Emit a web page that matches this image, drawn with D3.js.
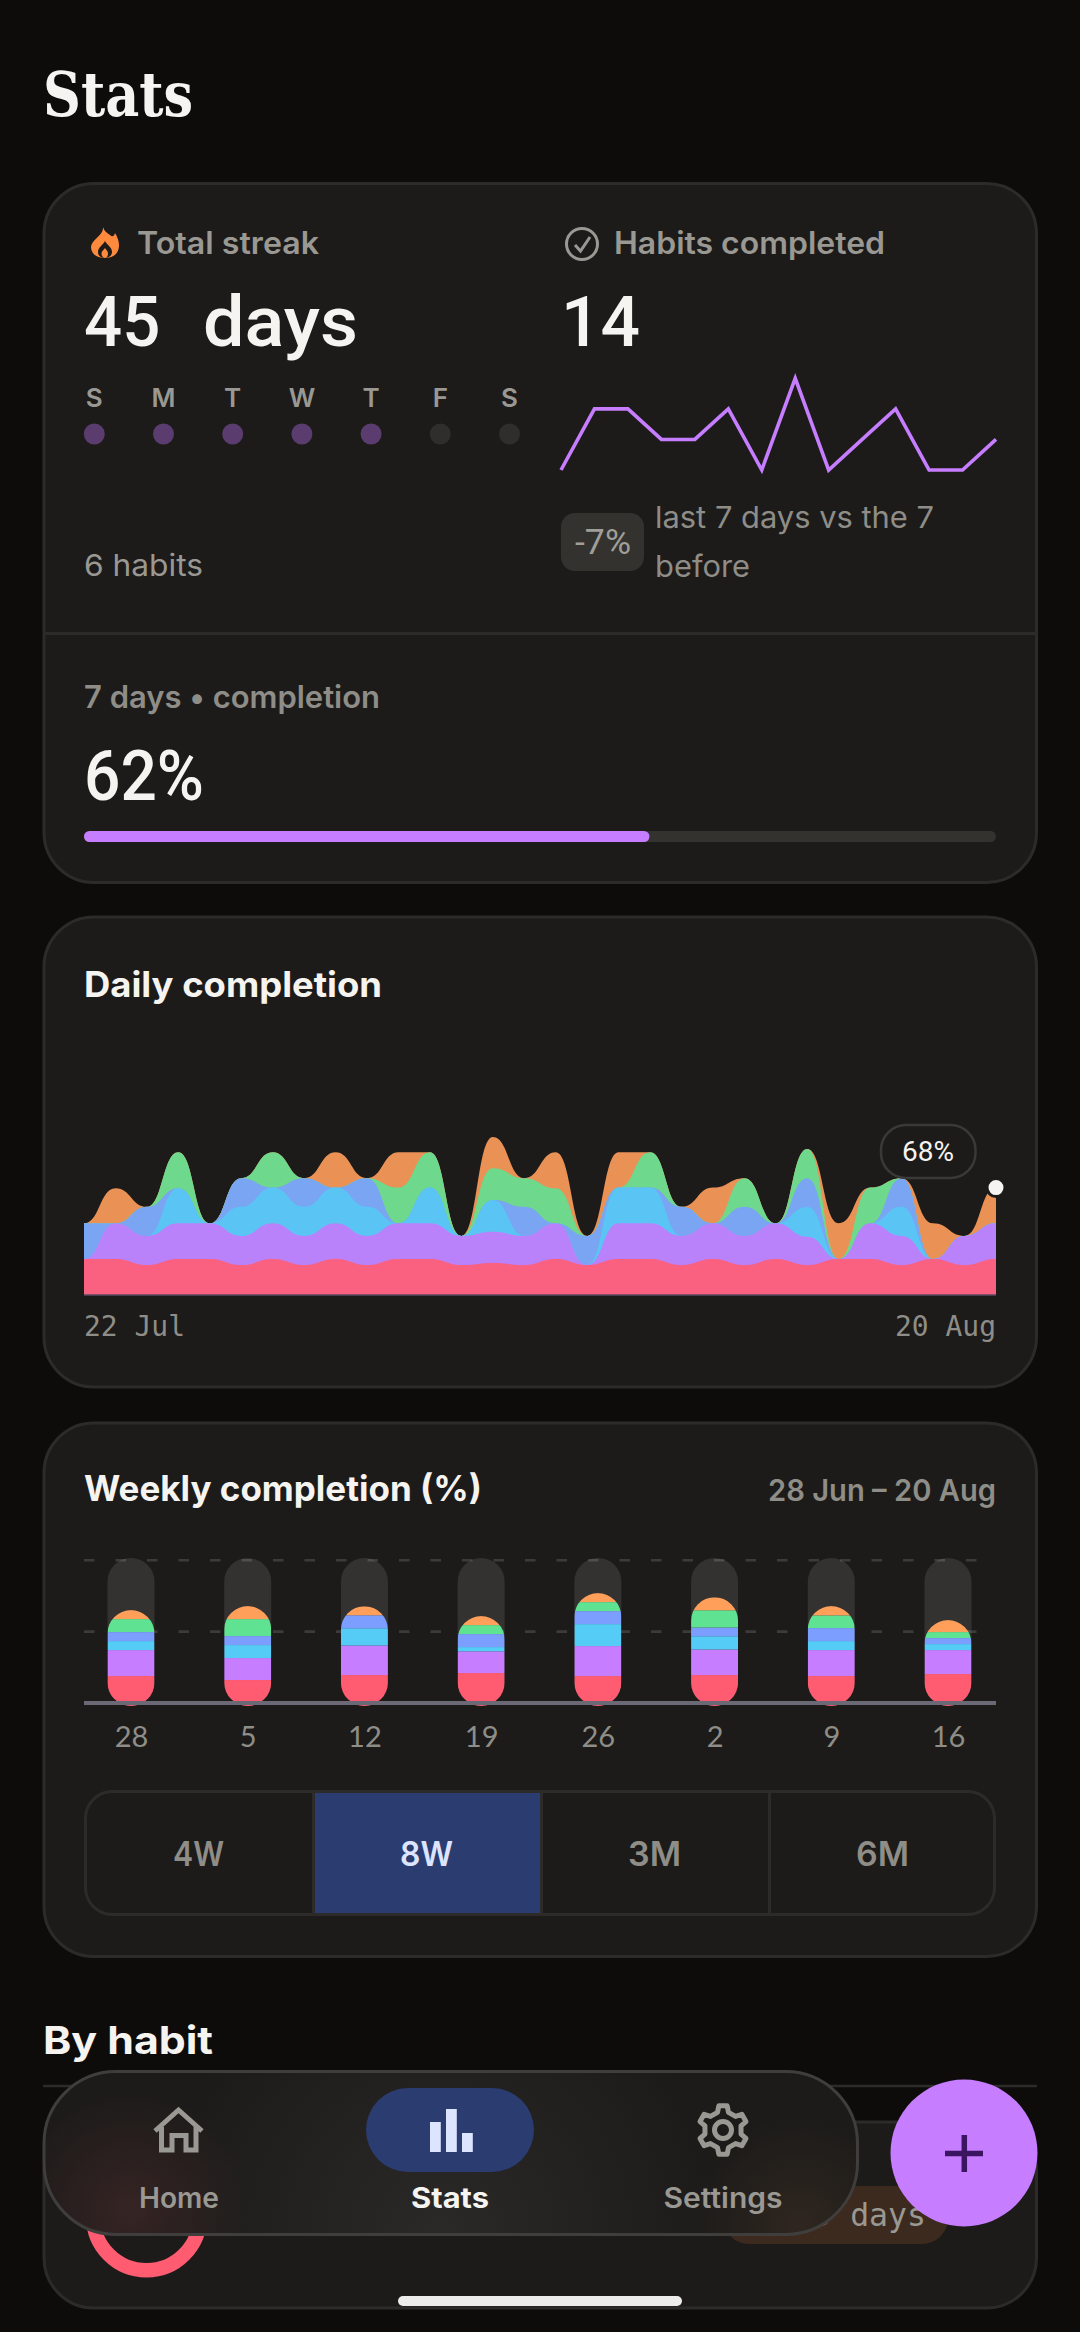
<!DOCTYPE html>
<html><head><meta charset="utf-8">
<script src="https://cdn.jsdelivr.net/npm/d3@7"></script>
<style>html,body{margin:0;padding:0;background:#0d0c0b}svg{display:block}</style>
</head><body>
<svg id="c" width="1080" height="2332" viewBox="0 0 1080 2332"></svg>
<script>
// ---- data ----
const weekdayLabels = ["S","M","T","W","T","F","S"];
const weekdayDone = [1,1,1,1,1,0,0];
const habitsPerDay = [1,3,3,2,2,3,1,4,1,2,3,1,1,2];
const completion7d = 62;

const dayIndex = d3.range(30);
const dailyRed    = [16.8,16.8,14,16.8,16.8,14,16.8,14,16.8,14,16.8,16.8,14,15,14,16.8,14,16.8,16.8,14,16.8,14,16.8,14,16.8,16.8,14,16.8,14,16.8];
const dailyPurple = [0,16.7,13.6,16.7,16.7,13.6,16.7,13.6,16.7,13.6,16.7,16.7,13.6,14.6,13.6,16.7,0,16.7,16.7,13.6,16.7,13.6,16.7,13.2,0,16.7,13.6,0,13.6,16.7];
const dailyCyan   = [0,0,0,16.4,0,13.6,16.7,13.6,16.7,13.6,0,16.7,0,14.8,0,0,0,16.7,16.7,0,0,0,0,13.9,0,0,13.6,0,0,0];
const dailyBlue   = [16.7,0,13.6,0,0,13.4,0,13.4,0,13.4,0,0,0,0,13.6,0,13.6,0,0,13.6,0,13.6,0,13.4,0,0,13.4,0,0,0];
const dailyGreen  = [0,0,0,16.8,0,0,16.5,0,0,0,16.7,16.5,0,14.8,13.4,16.4,0,0,16.5,0,0,13.4,0,13.7,0,16.7,0,0,0,0];
const dailyOrange = [0,16.4,0,0,0,0,0,0,16.5,0,16.5,0,0,14.6,0,16.8,0,16.5,0,0,16.7,0,0,0,16.7,0,0,16.7,0,16.7];
const dailySeries = [dailyRed,dailyPurple,dailyCyan,dailyBlue,dailyGreen,dailyOrange];
const dailyColors = ["#FA607F","#B982FA","#5AC5F4","#7AA5F2","#6ED88C","#EA9156"];
const dailyAxisLabels = ["22 Jul","20 Aug"];

const weekLabels = ["28","5","12","19","26","2","9","16"];
const weeklyRed    = [18.9,16.1,19.6,21,18.9,19.6,18.9,20.3];
const weeklyPurple = [18.2,15.4,20.7,15.2,21,17.9,18.2,16.8];
const weeklyCyan   = [6.3,9.1,12.1,3,15.4,9.3,6.3,4.2];
const weeklyBlue   = [6.3,6.3,9.1,9.1,9.1,6.1,9.1,4.2];
const weeklyGreen  = [9.1,11.9,0,6.3,6.3,12.1,8.9,4.2];
const weeklyOrange = [6.3,9.1,6.3,6.3,6.3,9.1,6.5,8.4];
const weeklySeries = [weeklyRed,weeklyPurple,weeklyCyan,weeklyBlue,weeklyGreen,weeklyOrange];
const weeklyColors = ["#FF5C72","#C77DFF","#55CCF5","#7C9EFF","#5FE392","#FF9F5A"];
const ranges = ["4W","8W","3M","6M"];

// ---- helpers ----
const svg = d3.select("#c");
const SANS = "Inter, 'Noto Sans', sans-serif", NUM = "Roboto, Inter, sans-serif", MONO = "'DejaVu Sans Mono', monospace";
const INK = "#f5f4f0", MUTED = "#9a9892", CARD = "#1c1b1a", EDGE = "#2c2b2a";
function txt(p, s, x, y, size, o = {}) {
  const t = p.append("text").attr("x", x).attr("y", y).text(s)
    .attr("font-family", o.font || SANS).attr("font-size", size)
    .attr("font-weight", o.weight || 400).attr("fill", o.fill || MUTED)
    .attr("text-anchor", o.anchor || "start");
  if (o.len) t.attr("textLength", o.len).attr("lengthAdjust", o.adjust || "spacingAndGlyphs");
  if (o.ws) t.attr("word-spacing", o.ws);
  if (o.stretch) t.attr("font-stretch", o.stretch);
  return t;
}
function card(y0, y1) {
  svg.append("rect").attr("x", 44).attr("y", y0).attr("width", 992.5).attr("height", y1 - y0)
    .attr("rx", 50).attr("fill", CARD).attr("stroke", EDGE).attr("stroke-width", 3);
}
const defs = svg.append("defs");

// ---- header ----
txt(svg, "Stats", 43, 116, 62, {font:"'DejaVu Serif', serif", weight:700, fill:INK, len:150, stretch:"condensed"});

// ---- card 1 ----
card(183.5, 882.5);
const flame = svg.append("g").attr("fill", "#ff8a3d");
flame.append("path").attr("d", "M103 227C104 235 91 240 91 247C91 254 97 258 105 258C113 258 119 254 119 245C119 241 117 236 115 233C114 237 112 237 110 235C107 233 104 231 103 227Z");
flame.append("path").attr("fill", CARD).attr("d", "M105 241C107 245 112 247 112 252C112 256 108 258 105 258C101 258 98 256 98 252C98 247 103 245 105 241Z");
flame.append("path").attr("d", "M105 248C106 250 108 251 108 253.5C108 256 107 258 105 258C103 258 101.5 256 101.5 253.5C101.5 251 104 250 105 248Z");
txt(svg, "Total streak", 137, 254, 31, {weight:600, len:182});
const big = txt(svg, "", 84, 346, 71, {font:NUM, weight:500, fill:INK});
big.append("tspan").attr("x",84).attr("textLength",93).attr("lengthAdjust","spacingAndGlyphs").text("45 ");
big.append("tspan").attr("x",203).attr("textLength",155).attr("lengthAdjust","spacingAndGlyphs").text("days");
txt(svg, "14", 561, 346, 71, {font:NUM, weight:500, fill:INK, len:79});

const dayX = d3.scalePoint().domain(d3.range(7)).range([94.3, 509.5]);
svg.append("g").selectAll("text").data(weekdayLabels).join("text")
  .attr("x", (d,i)=>dayX(i)).attr("y", 407).attr("text-anchor","middle").text(d=>d)
  .attr("font-family",SANS).attr("font-size",26).attr("font-weight",600).attr("fill",MUTED);
svg.append("g").selectAll("circle").data(weekdayDone).join("circle")
  .attr("cx",(d,i)=>dayX(i)).attr("cy",434).attr("r",10.5)
  .attr("fill",d=>d?"#5a3d6e":"#2f2e2c");
txt(svg, "6 habits", 84, 576, 30, {len:119});

svg.append("circle").attr("cx",582).attr("cy",244).attr("r",15.5).attr("fill","none").attr("stroke",MUTED).attr("stroke-width",3);
svg.append("path").attr("d","M575 245L580.5 251L590 237").attr("fill","none").attr("stroke",MUTED).attr("stroke-width",3);
txt(svg, "Habits completed", 614, 254, 31, {weight:600, len:271});

const sparkX = d3.scaleLinear().domain([0, habitsPerDay.length-1]).range([561, 996]);
const sparkY = d3.scaleLinear().domain([1,4]).range([470, 378.3]);
svg.append("path").datum(habitsPerDay)
  .attr("d", d3.line().x((d,i)=>sparkX(i)).y(d=>sparkY(d)))
  .attr("fill","none").attr("stroke","#c77dff").attr("stroke-width",3.6);

svg.append("rect").attr("x",561).attr("y",513).attr("width",83).attr("height",58).attr("rx",14).attr("fill","#33322f");
txt(svg, "-7%", 575, 554, 35, {font:NUM, fill:"#a09e98", len:56});
txt(svg, "last 7 days vs the 7", 655, 528, 30, {fill:"#8f8d87", len:279});
txt(svg, "before", 655, 576.5, 30, {fill:"#8f8d87", len:95});

svg.append("line").attr("x1",44).attr("x2",1036).attr("y1",633.5).attr("y2",633.5).attr("stroke",EDGE).attr("stroke-width",3);
txt(svg, "7 days • completion", 84, 708, 31, {weight:600, fill:"#8f8d87", len:296});
txt(svg, completion7d+"%", 84, 800, 71, {font:NUM, weight:500, fill:INK, len:120});
const progX = d3.scaleLinear().domain([0,100]).range([84,996]);
svg.append("rect").attr("x",84).attr("y",831).attr("width",912).attr("height",11).attr("rx",5.5).attr("fill","#33322f");
svg.append("rect").attr("x",84).attr("y",831).attr("width",progX(completion7d)-84).attr("height",11).attr("rx",5.5).attr("fill","#c77dff");

// ---- card 2: daily completion ----
card(917, 1387);
txt(svg, "Daily completion", 84, 997, 35, {weight:700, fill:INK, len:298});

const dx = d3.scaleLinear().domain([0,29]).range([84,996]);
const dy = d3.scaleLinear().domain([0,100]).range([1295,1081]);
const dailyRows = dayIndex.map(i => Object.fromEntries(dailySeries.map((s,k)=>[k,s[i]])));
const dailyStack = d3.stack().keys(d3.range(dailySeries.length))(dailyRows);
// painted top layer first, each filled down to the baseline, so no seams show between bands
const dArea = d3.area().curve(d3.curveBumpX).x((d,i)=>dx(i)).y0(dy(0)).y1(d=>dy(d[1]));
svg.append("g").selectAll("path").data(dailyStack.slice().reverse()).join("path")
  .attr("d", dArea).attr("fill",d=>dailyColors[d.key]);
svg.append("line").attr("x1",84).attr("x2",996).attr("y1",1295).attr("y2",1295).attr("stroke","#5a4a60").attr("stroke-width",1.5);
txt(svg, dailyAxisLabels[0], 84, 1336, 28, {font:MONO, fill:"#8f8d87", len:101});
txt(svg, dailyAxisLabels[1], 996, 1336, 28, {font:MONO, fill:"#8f8d87", anchor:"end", len:101});

const lastTop = d3.sum(dailySeries, s=>s[29]);
svg.append("rect").attr("x",881).attr("y",1125).attr("width",94.5).attr("height",53).attr("rx",25).attr("fill",CARD).attr("stroke","#3a3937").attr("stroke-width",2.5);
txt(svg, "68%", 928, 1161, 28, {font:NUM, fill:INK, anchor:"middle"});
svg.append("circle").attr("cx",dx(29)).attr("cy",dy(lastTop)).attr("r",9).attr("fill",INK).attr("stroke",CARD).attr("stroke-width",3);

// ---- card 3: weekly completion ----
card(1423, 1956.5);
txt(svg, "Weekly completion (%)", 84, 1501, 35, {weight:700, fill:INK, len:398});
txt(svg, "28 Jun – 20 Aug", 996, 1501, 30, {weight:600, fill:"#8f8d87", anchor:"end", len:228});

const wx = d3.scalePoint().domain(weekLabels.map((d,i)=>i)).range([131,948]);
const wy = d3.scaleLinear().domain([0,100]).range([1703,1560.3]);
const BAR = 47;
svg.append("g").selectAll("line").data([100,50]).join("line")
  .attr("x1",84).attr("x2",996).attr("y1",d=>wy(d)).attr("y2",d=>wy(d))
  .attr("stroke","#3c3b3a").attr("stroke-width",2.6).attr("stroke-dasharray","10.5 21");
svg.append("g").selectAll("rect").data(weekLabels).join("rect")
  .attr("x",(d,i)=>wx(i)-BAR/2).attr("y",1558).attr("width",BAR).attr("height",148).attr("rx",BAR/2)
  .attr("fill","rgba(255,255,255,0.1)");
const weeklyRows = weekLabels.map((_,i)=>Object.fromEntries(weeklySeries.map((s,k)=>[k,s[i]])));
const weeklyStack = d3.stack().keys(d3.range(weeklySeries.length))(weeklyRows);
weekLabels.forEach((w,i)=>{
  const total = d3.sum(weeklySeries,s=>s[i]);
  const top = wy(total);
  defs.append("clipPath").attr("id","wk"+i).append("rect")
    .attr("x",wx(i)-BAR/2).attr("y",top).attr("width",BAR).attr("height",1706-top).attr("rx",BAR/2);
});
weeklyStack.forEach((layer,k)=>{
  svg.append("g").selectAll("rect").data(layer).join("rect")
    .attr("clip-path",(d,i)=>`url(#wk${i})`)
    .attr("x",(d,i)=>wx(i)-BAR/2).attr("width",BAR)
    .attr("y",d=>wy(d[1])).attr("height",d=>(k===0?1706:wy(d[0]))-wy(d[1]))
    .attr("fill",weeklyColors[k]);
});
svg.append("line").attr("x1",84).attr("x2",996).attr("y1",1703).attr("y2",1703).attr("stroke","#6b6975").attr("stroke-width",4);
const wAxis = svg.append("g").attr("transform","translate(0,1706)")
  .call(d3.axisBottom(wx).tickSize(0).tickPadding(20).tickFormat(i=>weekLabels[i]));
wAxis.select(".domain").remove();
wAxis.selectAll("text").attr("font-family","Lato, sans-serif").attr("font-size",29).attr("fill","#8f8d87");

// segmented control
const segX = d3.scaleBand().domain(ranges).range([84,996]);
svg.append("rect").attr("x",85.5).attr("y",1791.5).attr("width",909).attr("height",123).attr("rx",27).attr("fill",CARD).attr("stroke",EDGE).attr("stroke-width",3);
svg.append("rect").attr("x",segX("8W")+3).attr("y",1793).attr("width",segX.bandwidth()-3).attr("height",120).attr("fill","#2b3c70");
svg.append("g").selectAll("line").data(ranges.slice(1)).join("line")
  .attr("x1",d=>segX(d)+1.5).attr("x2",d=>segX(d)+1.5).attr("y1",1793).attr("y2",1913)
  .attr("stroke",EDGE).attr("stroke-width",3);
svg.append("g").selectAll("text").data(ranges).join("text")
  .attr("x",d=>segX(d)+segX.bandwidth()/2+.5).attr("y",1866).attr("text-anchor","middle").text(d=>d)
  .attr("font-family",SANS).attr("font-size",34).attr("font-weight",600)
  .attr("textLength",d=>d==="4W"?51:53).attr("lengthAdjust","spacingAndGlyphs")
  .attr("fill",d=>d==="8W"?"#dde4ff":"#8f8d87");

// ---- by habit ----
txt(svg, "By habit", 43, 2054, 38, {weight:700, fill:INK, len:170});
svg.append("line").attr("x1",43).attr("x2",1037).attr("y1",2086).attr("y2",2086).attr("stroke",EDGE).attr("stroke-width",2.5);
svg.append("rect").attr("x",44).attr("y",2122).attr("width",992.5).attr("height",186).attr("rx",50).attr("fill",CARD).attr("stroke",EDGE).attr("stroke-width",3);
svg.append("circle").attr("cx",146.5).attr("cy",2217).attr("r",53.3).attr("fill","none").attr("stroke","#ff5c72").attr("stroke-width",14.4);
svg.append("rect").attr("x",723).attr("y",2186).attr("width",225).attr("height",58).attr("rx",26).attr("fill","#3d2a1f");
txt(svg, "45 days", 926, 2226, 31.5, {font:MONO, fill:MUTED, anchor:"end"});

// ---- nav ----
const g1 = defs.append("radialGradient").attr("id","gl").attr("gradientUnits","userSpaceOnUse").attr("cx",130).attr("cy",2210).attr("r",120);
g1.append("stop").attr("offset",0).attr("stop-color","#362424");
g1.append("stop").attr("offset",1).attr("stop-color","#362424").attr("stop-opacity",0);
const g2 = defs.append("radialGradient").attr("id","gr").attr("gradientUnits","userSpaceOnUse").attr("cx",800).attr("cy",2225).attr("r",110);
g2.append("stop").attr("offset",0).attr("stop-color","#2f2620");
g2.append("stop").attr("offset",1).attr("stop-color","#2f2620").attr("stop-opacity",0);
const g3 = defs.append("radialGradient").attr("id","gm").attr("gradientUnits","userSpaceOnUse").attr("cx",440).attr("cy",2235).attr("r",280);
g3.append("stop").attr("offset",0).attr("stop-color","#2a2927");
g3.append("stop").attr("offset",1).attr("stop-color","#2a2927").attr("stop-opacity",0);
const navRect = ()=>svg.append("rect").attr("x",44).attr("y",2071.5).attr("width",813.5).attr("height",163).attr("rx",72);
navRect().attr("fill","#1c1b19");
navRect().attr("fill","url(#gm)");
navRect().attr("fill","url(#gl)");
navRect().attr("fill","url(#gr)");
navRect().attr("fill","none").attr("stroke","#3f3e3c").attr("stroke-width",3);

svg.append("path").attr("d","M155 2131L178.5 2110L202 2131M161.5 2127V2150H172V2135.5H186V2150H196V2127")
  .attr("fill","none").attr("stroke",MUTED).attr("stroke-width",5);
txt(svg, "Home", 179, 2207.5, 28, {weight:600, anchor:"middle", len:80});

svg.append("rect").attr("x",366).attr("y",2088).attr("width",168).attr("height",84).attr("rx",42).attr("fill","#2b3c70");
const navBars = [{x:430,t:2122},{x:446,t:2109},{x:462,t:2133}];
svg.append("g").selectAll("rect").data(navBars).join("rect")
  .attr("x",d=>d.x).attr("y",d=>d.t).attr("width",10.8).attr("height",d=>2152-d.t).attr("fill","#dde4ff");
txt(svg, "Stats", 450, 2207.5, 28, {weight:700, fill:INK, anchor:"middle", len:78});

// gear icon
const gear = [];
const T = 6;
for (let i=0;i<T;i++){
  const a = i*2*Math.PI/T - Math.PI/2;
  [[-0.30,18.5],[-0.17,24.5],[0.17,24.5],[0.30,18.5]].forEach(([da,r])=>gear.push([r*Math.cos(a+da)+723,r*Math.sin(a+da)+2130]));
}
svg.append("path").attr("d",d3.line().curve(d3.curveLinearClosed)(gear)).attr("fill","none").attr("stroke",MUTED).attr("stroke-width",5).attr("stroke-linejoin","round");
svg.append("circle").attr("cx",723).attr("cy",2130).attr("r",8.5).attr("fill","none").attr("stroke",MUTED).attr("stroke-width",5);
txt(svg, "Settings", 723, 2207.5, 28, {weight:600, anchor:"middle", len:119});

// FAB
svg.append("circle").attr("cx",964).attr("cy",2153).attr("r",73.5).attr("fill","#c77dff");
svg.append("path").attr("d","M945 2153.5H983M964.3 2135V2172").attr("stroke","#3a1560").attr("stroke-width",5.5).attr("fill","none");

// home indicator
svg.append("rect").attr("x",398).attr("y",2296).attr("width",284).attr("height",10).attr("rx",5).attr("fill","#ececea");
</script>
</body></html>
